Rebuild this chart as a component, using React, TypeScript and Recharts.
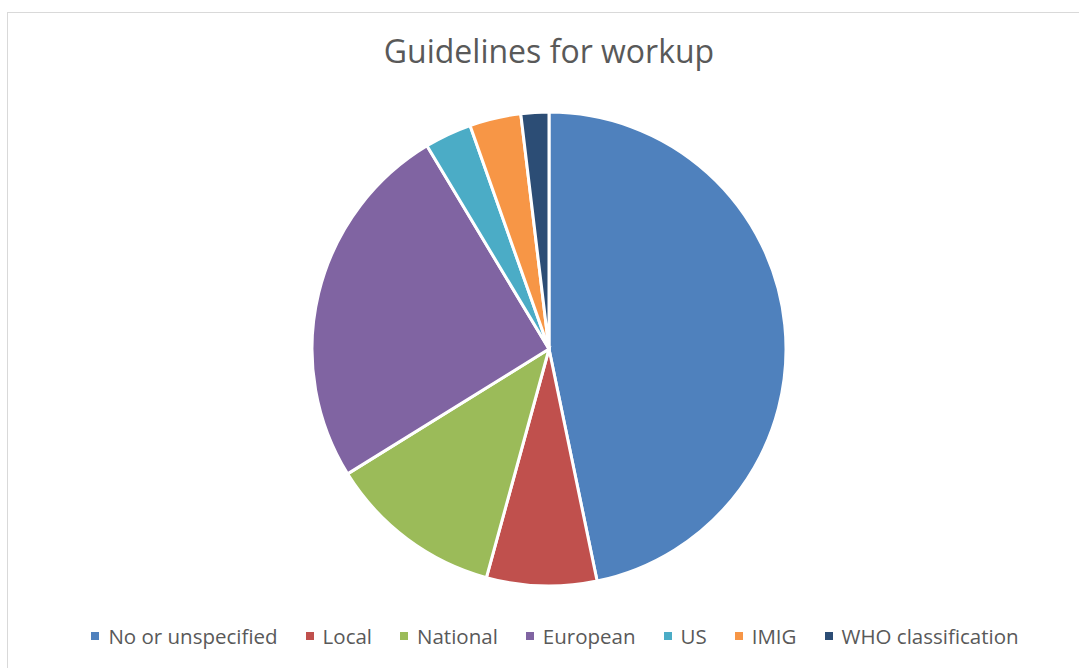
import React from "react";
import { PieChart, Pie, Cell, Legend } from "recharts";

const categories = [
  "No or unspecified",
  "Local",
  "National",
  "European",
  "US",
  "IMIG",
  "WHO classification",
];
const shares = [46.7, 7.5, 11.9, 25.2, 3.2, 3.5, 1.9];
const colors = ["#4f81bd", "#c0504d", "#9bbb59", "#8064a2", "#4bacc6", "#f79646", "#2c4d75"];

const data = categories.map((name, i) => ({ name, value: shares[i], color: colors[i] }));

const font = "'Open Sans', 'Liberation Sans', sans-serif";

function LegendRow() {
  return (
    <div
      style={{
        display: "flex",
        justifyContent: "center",
        alignItems: "center",
        fontFamily: font,
        fontSize: 20.5,
        color: "#595959",
        whiteSpace: "nowrap",
      }}
    >
      {data.map((d) => (
        <div key={d.name} style={{ display: "flex", alignItems: "center", margin: "0 14px" }}>
          <span
            style={{ width: 8, height: 8, background: d.color, display: "inline-block", marginRight: 9 }}
          />
          <span>{d.name}</span>
        </div>
      ))}
    </div>
  );
}

export default function App() {
  return (
    <div style={{ position: "absolute", left: 0, top: 0, width: 1079, height: 668, background: "#fff", overflow: "hidden" }}>
      <div
        style={{
          position: "absolute",
          left: 7,
          top: 12,
          width: 1090,
          height: 680,
          border: "1px solid #d9d9d9",
          boxSizing: "border-box",
        }}
      />
      <div
        style={{
          position: "absolute",
          left: 0,
          top: 29,
          width: 1098,
          textAlign: "center",
          fontFamily: font,
          fontSize: 32,
          color: "#595959",
        }}
      >
        Guidelines for workup
      </div>
      <div style={{ position: "absolute", left: 0, top: 0 }}>
        <PieChart width={1079} height={668} margin={{ top: 0, right: 0, bottom: 0, left: 0 }}>
          <Pie
            data={data}
            dataKey="value"
            nameKey="name"
            cx={549}
            cy={349}
            outerRadius={237}
            startAngle={90}
            endAngle={-270}
            stroke="#ffffff"
            strokeWidth={3}
            isAnimationActive={false}
          >
            {data.map((d, i) => (
              <Cell key={i} fill={d.color} />
            ))}
          </Pie>
          <Legend
            content={() => <LegendRow />}
            wrapperStyle={{ position: "absolute", left: 20, top: 622, width: 1070 }}
          />
        </PieChart>
      </div>
    </div>
  );
}
